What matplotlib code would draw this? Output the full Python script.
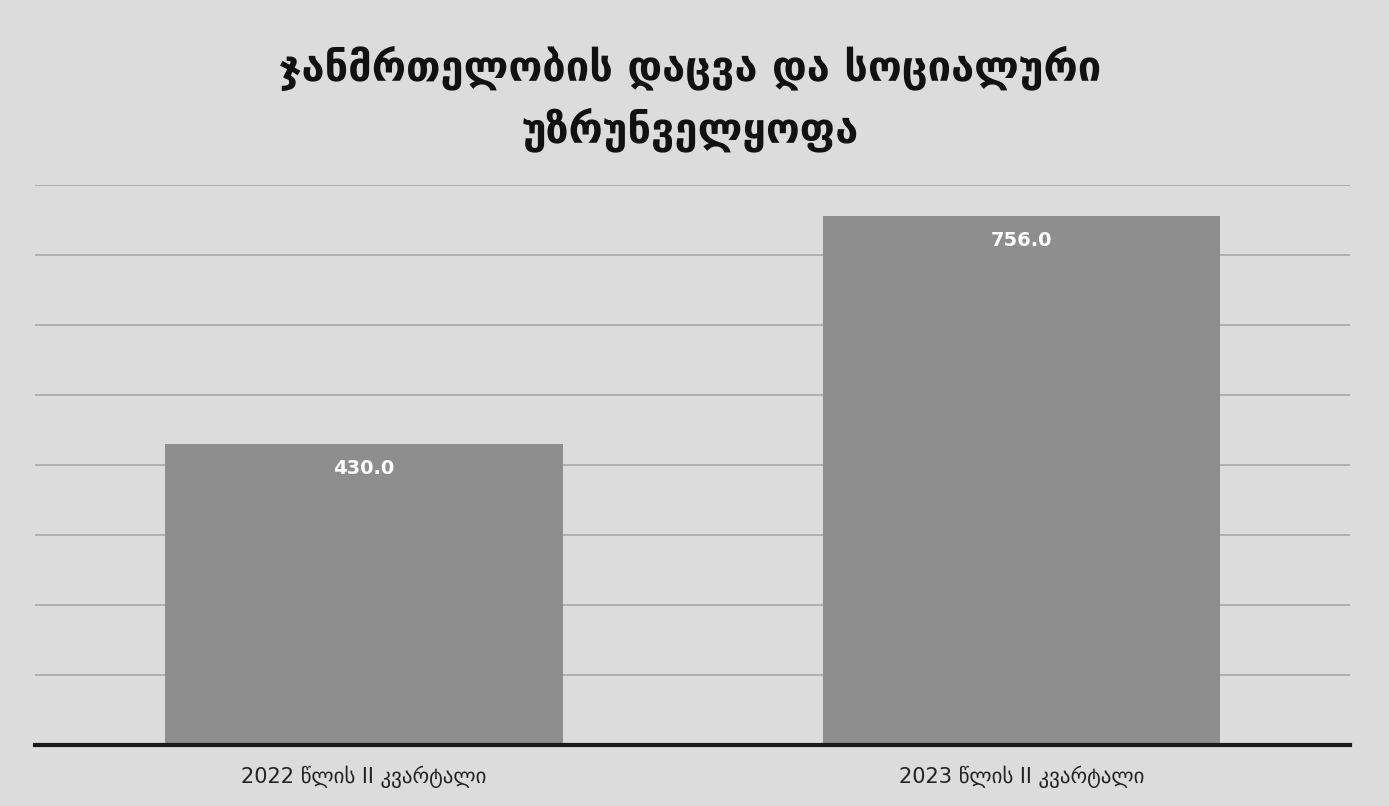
import matplotlib.pyplot as plt

plt.rcParams['font.family'] = ['DejaVu Sans']

# data
categories = ['2022 წლის II კვარტალი', '2023 წლის II კვარტალი']
values = [430.0, 756.0]
title = 'ჯანმრთელობის დაცვა და სოციალური\nუზრუნველყოფა'

bg = '#dcdcdc'
fig = plt.figure(figsize=(13.89, 8.06), dpi=100, facecolor=bg)
ax = fig.add_axes([0.0252, 0.0757, 0.947, 0.695], facecolor=bg)

x = range(len(categories))
bars = ax.bar(x, values, width=0.605, color='#8e8e8e', zorder=2)

for b, v in zip(bars, values):
    ax.text(b.get_x() + b.get_width() / 2, v - 22, f'{v:.1f}',
            ha='center', va='top', color='white', fontsize=14, fontweight='bold', zorder=3)

ax.set_xlim(-0.5, 1.5)
ax.set_ylim(0, 800)
ax.set_yticks(range(0, 801, 100))
ax.yaxis.grid(True, color='#a8a8a8', linewidth=1.2, zorder=0)
ax.set_axisbelow(True)
ax.tick_params(axis='y', left=False, labelleft=False)
ax.tick_params(axis='x', bottom=False, pad=11)
ax.set_xticks(list(x))
ax.set_xticklabels(categories, fontsize=15, color='#222222')

for s in ['top', 'right', 'left']:
    ax.spines[s].set_visible(False)
ax.spines['bottom'].set_linewidth(3)
ax.spines['bottom'].set_color('#1a1a1a')

fig.text(0.497, 0.877, title, ha='center', va='center', fontsize=30,
         fontweight='bold', color='#111111', linespacing=1.45)

fig.savefig('out.png', dpi=100, facecolor=bg)
